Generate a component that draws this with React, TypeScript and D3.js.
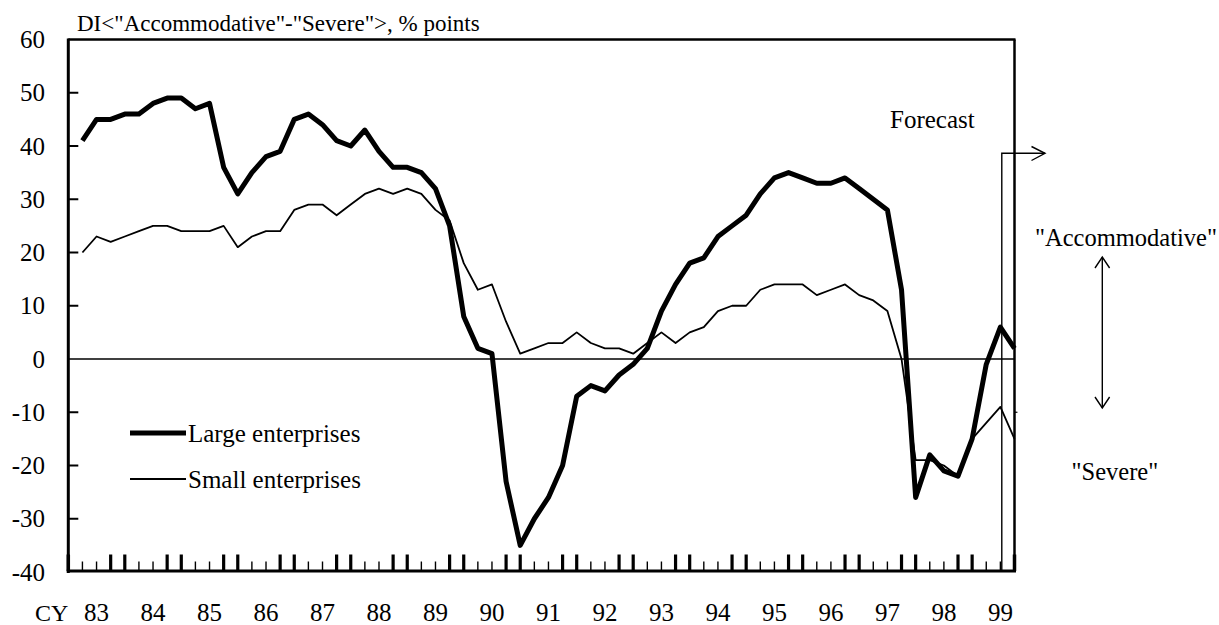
import React from "react";
import * as d3 from "d3";

// Quarterly DI values, first survey of CY83 through the (forecast) third of CY99
const largeEnterprises = [
  41, 45, 45, 46, 46, 48, 49, 49, 47, 48, 36, 31, 35, 38, 39, 45, 46, 44, 41, 40,
  43, 39, 36, 36, 35, 32, 25, 8, 2, 1, -23, -35, -30, -26, -20, -7, -5, -6, -3, -1,
  2, 9, 14, 18, 19, 23, 25, 27, 31, 34, 35, 34, 33, 33, 34, 32, 30, 28, 13, -26,
  -18, -21, -22, -15, -1, 6, 2,
];
const smallEnterprises = [
  20, 23, 22, 23, 24, 25, 25, 24, 24, 24, 25, 21, 23, 24, 24, 28, 29, 29, 27, 29,
  31, 32, 31, 32, 31, 28, 26, 18, 13, 14, 7, 1, 2, 3, 3, 5, 3, 2, 2, 1,
  3, 5, 3, 5, 6, 9, 10, 10, 13, 14, 14, 14, 12, 13, 14, 12, 11, 9, 0, -19,
  -19, -20, -22, -15, -12, -9, -15,
];
const yearLabels = ["83", "84", "85", "86", "87", "88", "89", "90", "91", "92", "93", "94", "95", "96", "97", "98", "99"];
const yTicks = [60, 50, 40, 30, 20, 10, 0, -10, -20, -30, -40];
const legendLabels = ["Large enterprises", "Small enterprises"];
const forecastIndex = 66.1;

const FONT = "Liberation Serif, Times New Roman, serif";

export default function App() {
  const W = 1219;
  const H = 625;
  const x = d3.scaleLinear().domain([0, 67]).range([68.3, 1014.5]);
  const y = d3.scaleLinear().domain([-40, 60]).range([572, 39.5]);

  const line = d3
    .line<number>()
    .x((_, i) => x(i + 1))
    .y((d) => y(d));

  const tickIdx = d3.range(1, 67);

  return (
    <svg
      width={W}
      height={H}
      style={{ position: "absolute", left: 0, top: 0, background: "#fff", fontFamily: FONT }}
      fontFamily={FONT}
    >
      <rect x={0} y={0} width={W} height={H} fill="#fff" />
      {/* title */}
      <text x={77} y={30.5} fontSize={23}>
        DI&lt;"Accommodative"-"Severe"&gt;,  % points
      </text>

      {/* zero line */}
      <line x1={x(0)} x2={x(67)} y1={y(0)} y2={y(0)} stroke="#000" strokeWidth={1.6} />

      {/* y tick labels and inner ticks */}
      {yTicks.map((t) => (
        <g key={t}>
          <text x={45} y={y(t) + 8.5} fontSize={25} textAnchor="end">
            {t}
          </text>
          {t !== 60 && t !== -40 && t !== 0 && (
            <line x1={x(0)} x2={x(0) + 10} y1={y(t)} y2={y(t)} stroke="#000" strokeWidth={2} />
          )}
        </g>
      ))}

      {/* series */}
      <path d={line(smallEnterprises) || ""} fill="none" stroke="#000" strokeWidth={1.8} strokeLinejoin="round" />
      <path d={line(largeEnterprises) || ""} fill="none" stroke="#000" strokeWidth={5} strokeLinejoin="round" />

      {/* forecast marker */}
      <path
        d={`M${x(forecastIndex)},${y(-40)} L${x(forecastIndex)},153.3 L1045,153.3`}
        fill="none"
        stroke="#000"
        strokeWidth={1.4}
      />
      <path d="M1031.5,146.5 L1045,153.3 L1031.5,160.5" fill="none" stroke="#000" strokeWidth={1.4} />
      <text x={890} y={128} fontSize={25}>
        Forecast
      </text>

      {/* frame */}
      <line x1={x(0)} x2={x(67) + 1} y1={39.5} y2={39.5} stroke="#000" strokeWidth={2.3} />
      <line x1={x(67)} x2={x(67)} y1={39.5} y2={572} stroke="#000" strokeWidth={2.5} />
      <line x1={x(67)} x2={x(67) + 3} y1={y(-10)} y2={y(-10)} stroke="#000" strokeWidth={1.2} />
      <line x1={x(0)} x2={x(0)} y1={38.5} y2={573} stroke="#000" strokeWidth={3} />
      <line x1={x(0) - 1.5} x2={x(67) + 1.5} y1={571} y2={571} stroke="#000" strokeWidth={3} />

      {/* x ticks */}
      {tickIdx.map((k) => {
        const thick = k % 4 === 0 || k % 4 === 3;
        return (
          <line
            key={k}
            x1={x(k)}
            x2={x(k)}
            y1={571}
            y2={thick ? 554.5 : 561.5}
            stroke="#000"
            strokeWidth={thick ? 3.2 : 1.4}
          />
        );
      })}
      <line x1={x(0)} x2={x(0)} y1={571} y2={554.5} stroke="#000" strokeWidth={3.5} />
      <line x1={x(67)} x2={x(67)} y1={571} y2={554.5} stroke="#000" strokeWidth={3.5} />

      {/* x labels */}
      <text x={35} y={621} fontSize={24}>
        CY
      </text>
      {yearLabels.map((lab, i) => (
        <text key={lab} x={x(2 + 4 * i)} y={621} fontSize={25} textAnchor="middle">
          {lab}
        </text>
      ))}

      {/* legend */}
      <line x1={130} x2={186} y1={433} y2={433} stroke="#000" strokeWidth={5} />
      <text x={188} y={441.5} fontSize={25}>
        {legendLabels[0]}
      </text>
      <line x1={130} x2={186} y1={479} y2={479} stroke="#000" strokeWidth={1.8} />
      <text x={188} y={487.5} fontSize={25}>
        {legendLabels[1]}
      </text>

      {/* right annotations */}
      <text x={1035} y={246} fontSize={24.5}>
        "Accommodative"
      </text>
      <text x={1071.5} y={480} fontSize={24.5}>
        "Severe"
      </text>
      <line x1={1102.3} x2={1102.3} y1={257} y2={408} stroke="#000" strokeWidth={1.4} />
      <path d="M1095,268 L1102.3,257 L1109.6,268" fill="none" stroke="#000" strokeWidth={1.4} />
      <path d="M1095,397 L1102.3,408 L1109.6,397" fill="none" stroke="#000" strokeWidth={1.4} />
    </svg>
  );
}
